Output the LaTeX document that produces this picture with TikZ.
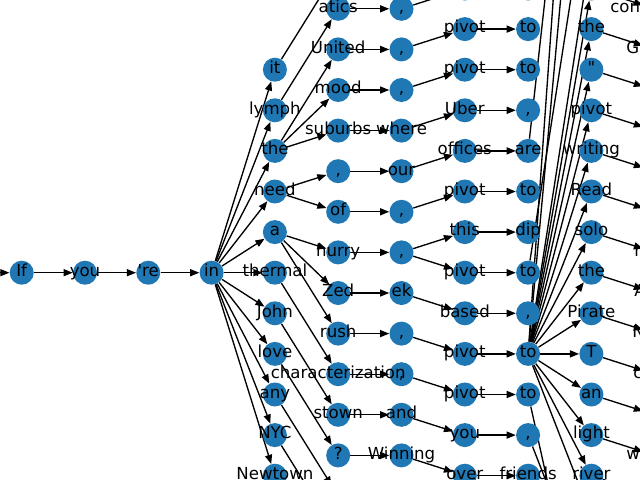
\documentclass[tikz,border=0pt]{standalone}
\usepackage{fontspec}
\setmainfont{DejaVu Sans}[Ligatures=TeXOff]
\usepackage{xcolor}
\usepackage{tikz}
\usetikzlibrary{arrows.meta,backgrounds}

\definecolor{nodeblue}{RGB}{31,119,180}
\pgfdeclarelayer{foreground}
\pgfsetlayers{background,main,foreground}

% circle with its word drawn above every circle and edge
\newcommand\word[3]{%
  \node[vtx] (#1) at (#2) {};
  \begin{pgfonlayer}{foreground}\node[lbl] at (#1) {#3};\end{pgfonlayer}}

\begin{document}
\begin{tikzpicture}[
  x=0.025cm, y=-0.025cm,
  vtx/.style={circle, fill=nodeblue, draw=none, inner sep=0pt, minimum size=0.6cm},
  lbl/.style={inner sep=0pt, text height=0.76em, text depth=0.208em, font=\fontsize{11.8}{14}\selectfont},
  link/.style={-{Triangle[length=6.5pt,width=5pt]}, line width=0.95pt, black}
]
\useasboundingbox (0,0) rectangle (640,480);
\begin{scope}
\clip (0,0) rectangle (640,480);

% sentence start
\node[vtx] (start) at (-41.6,272.7) {};
\word{if}{21.7,272.7}{If}
\word{you}{85.0,272.7}{you}
\word{re}{148.3,272.7}{'re}
\word{in}{211.6,272.7}{in}

% column 5
\word{it}{274.9,69.7}{it}
\word{lymph}{274.9,110.3}{lymph}
\word{the}{274.9,150.9}{the}
\word{need}{274.9,191.5}{need}
\word{a}{274.9,232.1}{a}
\word{thermal}{274.9,272.7}{thermal}
\word{john}{274.9,313.3}{John}
\word{love}{274.9,353.9}{love}
\word{any}{274.9,394.5}{any}
\word{nyc}{274.9,435.1}{NYC}
\word{newtown}{274.9,475.7}{Newtown}

% column 6
\node[vtx] (sixa) at (338.2,-31.8) {};
\word{atics}{338.2,8.8}{atics}
\word{united}{338.2,49.4}{United}
\word{mood}{338.2,90.0}{mood}
\word{suburbs}{338.2,130.6}{suburbs}
\word{sixcomma}{338.2,171.2}{,}
\word{of}{338.2,211.8}{of}
\word{hurry}{338.2,252.4}{hurry}
\word{zed}{338.2,293.0}{Zed}
\word{rush}{338.2,333.6}{rush}
\word{charact}{338.2,374.2}{characterization}
\word{stown}{338.2,414.8}{stown}
\word{quest}{338.2,455.4}{?}
\node[vtx] (sixb) at (338.2,496.0) {};
\node[vtx] (sixc) at (338.2,536.6) {};
\node[vtx] (sixd) at (338.2,577.2) {};

% column 7
\node[vtx] (sevena) at (401.5,-31.8) {};
\word{commaa}{401.5,8.8}{,}
\word{commab}{401.5,49.4}{,}
\word{commac}{401.5,90.0}{,}
\word{where}{401.5,130.6}{where}
\word{our}{401.5,171.2}{our}
\word{commad}{401.5,211.8}{,}
\word{commae}{401.5,252.4}{,}
\word{ek}{401.5,293.0}{ek}
\word{commaf}{401.5,333.6}{,}
\word{commag}{401.5,374.2}{,}
\word{and}{401.5,414.8}{and}
\word{winning}{401.5,455.4}{Winning}
\node[vtx] (sevenb) at (401.5,496.0) {};
\node[vtx] (sevenc) at (401.5,536.6) {};
\node[vtx] (sevend) at (401.5,577.2) {};

% column 8
\node[vtx] (eighta) at (464.8,-52.1) {};
\node[vtx] (eightb) at (464.8,-11.5) {};
\word{pivota}{464.8,29.1}{pivot}
\word{pivotb}{464.8,69.7}{pivot}
\word{uber}{464.8,110.3}{Uber}
\word{offices}{464.8,150.9}{offices}
\word{pivotc}{464.8,191.5}{pivot}
\word{this}{464.8,232.1}{this}
\word{pivotd}{464.8,272.7}{pivot}
\word{based}{464.8,313.3}{based}
\word{pivote}{464.8,353.9}{pivot}
\word{pivotf}{464.8,394.5}{pivot}
\word{youb}{464.8,435.1}{you}
\word{over}{464.8,475.7}{over}
\node[vtx] (eightc) at (464.8,516.3) {};
\node[vtx] (eightd) at (464.8,556.9) {};
\node[vtx] (eighte) at (464.8,597.5) {};

% column 9
\node[vtx] (ninea) at (528.1,-52.1) {};
\node[vtx] (nineb) at (528.1,-11.5) {};
\word{toa}{528.1,29.1}{to}
\word{tob}{528.1,69.7}{to}
\word{commah}{528.1,110.3}{,}
\word{are}{528.1,150.9}{are}
\word{toc}{528.1,191.5}{to}
\word{dip}{528.1,232.1}{dip}
\word{tod}{528.1,272.7}{to}
\word{commai}{528.1,313.3}{,}
\word{hub}{528.1,353.9}{to}
\word{tof}{528.1,394.5}{to}
\word{commaj}{528.1,435.1}{,}
\word{friends}{528.1,475.7}{friends}
\node[vtx] (ninec) at (528.1,516.3) {};
\node[vtx] (nined) at (528.1,556.9) {};
\node[vtx] (ninee) at (528.1,597.5) {};

% column 10
\node[vtx] (tena) at (591.4,-539.3) {};
\node[vtx] (tenb) at (591.4,-417.5) {};
\node[vtx] (tenc) at (591.4,-336.3) {};
\node[vtx] (tend) at (591.4,-133.3) {};
\node[vtx] (tene) at (591.4,-52.1) {};
\node[vtx] (tenf) at (591.4,-11.5) {};
\word{thea}{591.4,29.1}{the}
\word{quote}{591.4,69.7}{"}
\word{pivotg}{591.4,110.3}{pivot}
\word{writing}{591.4,150.9}{writing}
\word{read}{591.4,191.5}{Read}
\word{solo}{591.4,232.1}{solo}
\word{theb}{591.4,272.7}{the}
\word{pirate}{591.4,313.3}{Pirate}
\word{tee}{591.4,353.9}{T}
\word{an}{591.4,394.5}{an}
\word{light}{591.4,435.1}{light}
\word{river}{591.4,475.7}{river}
\node[vtx] (teng) at (591.4,516.3) {};
\node[vtx] (tenh) at (591.4,597.5) {};
\node[vtx] (teni) at (591.4,678.7) {};

% column 11, only the start of some words shows
\node[vtx] (elva) at (654.7,8.8) {};
\node[vtx] (elvb) at (654.7,49.4) {};
\node[vtx] (elvc) at (654.7,90.0) {};
\node[vtx] (elvd) at (654.7,130.6) {};
\node[vtx] (elve) at (654.7,171.2) {};
\node[vtx] (elvf) at (654.7,211.8) {};
\node[vtx] (elvg) at (654.7,252.4) {};
\node[vtx] (elvh) at (654.7,293.0) {};
\node[vtx] (elvi) at (654.7,333.6) {};
\node[vtx] (elvj) at (654.7,374.2) {};
\node[vtx] (elvk) at (654.7,414.8) {};
\node[vtx] (elvl) at (654.7,455.4) {};
\node[vtx] (elvm) at (654.7,496.0) {};
\begin{pgfonlayer}{foreground}
\node[lbl, anchor=west] (lcon) at (610,8.8) {con};
\node[lbl, anchor=west] (lg) at (626,49.4) {G};
\node[lbl, anchor=west] (lr) at (634,252.4) {r};
\node[lbl, anchor=west] (la) at (634,293.0) {A};
\node[lbl, anchor=west] (ln) at (632,333.6) {N};
\node[lbl, anchor=west] (lc) at (633,374.2) {c};
\node[lbl, anchor=west] (lw) at (626,455.4) {w};
\end{pgfonlayer}
\end{scope}

% all edges go under the nodes
\begin{scope}[on background layer]
\fill[white] (0,0) rectangle (640,480);
\clip (0,0) rectangle (640,480);
\foreach \src/\dst in {start/if, if/you, you/re, re/in,
  in/it, in/lymph, in/the, in/need, in/a, in/thermal, in/john, in/love, in/any, in/nyc, in/newtown,
  it/sixa, lymph/atics, the/united, the/mood, the/suburbs, need/sixcomma, need/of,
  a/hurry, a/zed, a/rush, thermal/charact, john/stown, love/quest, any/sixb, nyc/sixc, newtown/sixd,
  sixa/sevena, atics/commaa, united/commab, mood/commac, suburbs/where, sixcomma/our, of/commad,
  hurry/commae, zed/ek, rush/commaf, charact/commag, stown/and, quest/winning,
  sixb/sevenb, sixc/sevenc, sixd/sevend,
  sevena/eighta, commaa/eightb, commab/pivota, commac/pivotb, where/uber, our/offices, commad/pivotc,
  commae/this, commae/pivotd, ek/based, commaf/pivote, commag/pivotf, and/youb, winning/over,
  sevenb/eightc, sevenc/eightd, sevend/eighte,
  eighta/ninea, eightb/nineb, pivota/toa, pivotb/tob, uber/commah, offices/are, pivotc/toc,
  this/dip, pivotd/tod, based/commai, pivote/hub, pivotf/tof, youb/commaj, over/friends,
  eightc/ninec, eightd/nined, eighte/ninee}
  \draw[link] (\src) -- (\dst);

% the busy "to"
\foreach \dst in {tena, tenc, tene, tenf, thea, quote, pivotg, writing, read, solo, theb,
  pirate, tee, an, light, river, teng}
  \draw[link] (hub) -- (\dst);
\draw[link] (tod) -- (tend);
\draw[link] (are) -- (tenb);
\draw[link] (tof) -- (teni);
\draw[link] (commaj) -- (tenh);

\foreach \src/\dst in {tenf/elva, thea/elvb, quote/elvc, pivotg/elvd, writing/elve, read/elvf,
  solo/elvg, theb/elvh, pirate/elvi, tee/elvj, an/elvk, light/elvl, river/elvm}
  \draw[link] (\src) -- (\dst);
\end{scope}

\end{tikzpicture}
\end{document}
